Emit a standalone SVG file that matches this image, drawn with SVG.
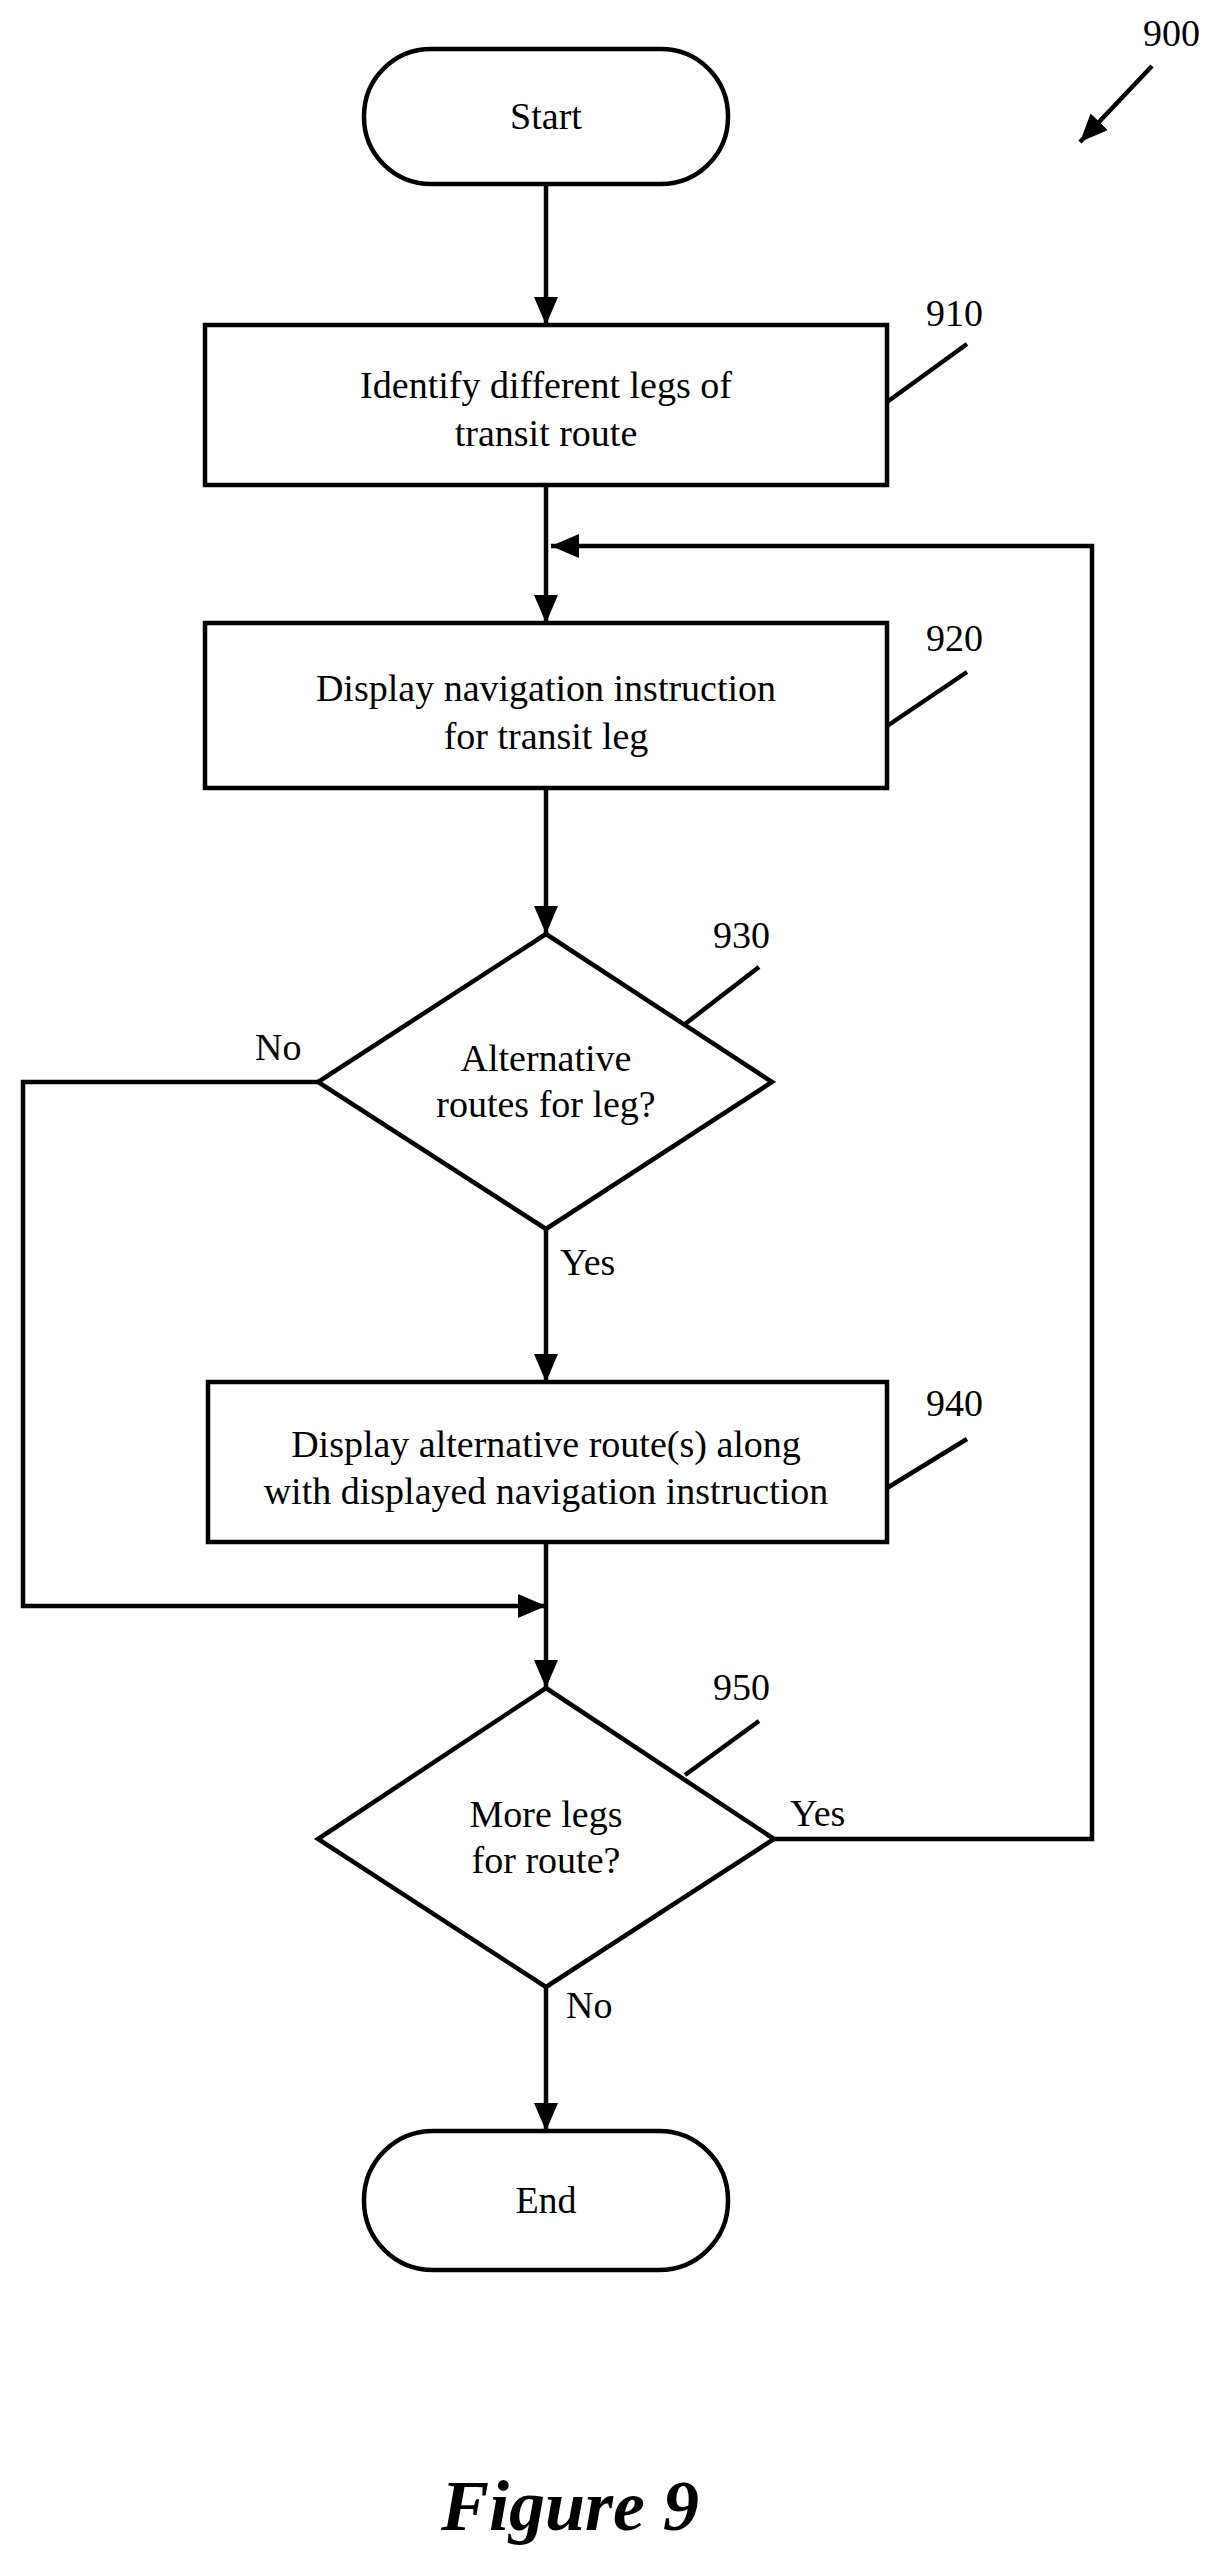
<svg xmlns="http://www.w3.org/2000/svg" width="1226" height="2563" viewBox="0 0 1226 2563">
<style>
.s{fill:#fff;stroke:#000;stroke-width:4.5}
.l{fill:none;stroke:#000;stroke-width:4.5}
.t{font-family:"Liberation Serif",serif;font-size:38px;text-anchor:middle;fill:#000}
.n{font-family:"Liberation Serif",serif;font-size:38px;fill:#000}
</style>
<defs>
<marker id="b" markerWidth="28" markerHeight="28" refX="28" refY="14" orient="auto" markerUnits="userSpaceOnUse" viewBox="0 0 28 28"><path d="M0,2 L28,14 L0,26z" fill="#000"/></marker></defs>
<g id="connectors">
<line class="l" x1="546" y1="184" x2="546" y2="325" marker-end="url(#b)"/>
<line class="l" x1="546" y1="485" x2="546" y2="623" marker-end="url(#b)"/>
<line class="l" x1="546" y1="788" x2="546" y2="934" marker-end="url(#b)"/>
<line class="l" x1="546" y1="1229" x2="546" y2="1382" marker-end="url(#b)"/>
<line class="l" x1="546" y1="1542" x2="546" y2="1688" marker-end="url(#b)"/>
<polyline class="l" points="318,1082 23,1082 23,1606 546,1606" marker-end="url(#b)"/>
<line class="l" x1="546" y1="1987" x2="546" y2="2131" marker-end="url(#b)"/>
<polyline class="l" points="774,1839 1092,1839 1092,546 551,546" marker-end="url(#b)"/>
<text class="n" x="255" y="1060">No</text>
<text class="n" x="560" y="1275">Yes</text>
<text class="n" x="790" y="1826">Yes</text>
<text class="n" x="566" y="2018">No</text>
</g>
<g id="start"><rect class="s" x="364" y="49" width="364" height="135" rx="67"/><text class="t" x="546" y="129">Start</text></g>
<g id="n910"><rect class="s" x="205" y="325" width="682" height="160"/><text class="t" x="546" y="398">Identify different legs of</text><text class="t" x="546" y="446">transit route</text>
<line class="l" x1="887" y1="402" x2="967" y2="344"/><text class="n" x="926" y="326">910</text></g>
<g id="n920"><rect class="s" x="205" y="623" width="682" height="165"/><text class="t" x="546" y="701">Display navigation instruction</text><text class="t" x="546" y="749">for transit leg</text>
<line class="l" x1="887" y1="726" x2="967" y2="672"/><text class="n" x="926" y="651">920</text></g>
<g id="n930"><polygon class="s" points="546,934 772,1082 546,1229 318,1082"/><text class="t" x="546" y="1071">Alternative</text><text class="t" x="546" y="1117">routes for leg?</text>
<line class="l" x1="685" y1="1024" x2="759" y2="967"/><text class="n" x="713" y="948">930</text></g>
<g id="n940"><rect class="s" x="208" y="1382" width="679" height="160"/><text class="t" x="546" y="1457">Display alternative route(s) along</text><text class="t" x="546" y="1504">with displayed navigation instruction</text>
<line class="l" x1="887" y1="1488" x2="967" y2="1439"/><text class="n" x="926" y="1416">940</text></g>
<g id="n950"><polygon class="s" points="546,1688 774,1839 546,1987 318,1839"/><text class="t" x="546" y="1827">More legs</text><text class="t" x="546" y="1873">for route?</text>
<line class="l" x1="685" y1="1775" x2="759" y2="1721"/><text class="n" x="713" y="1700">950</text></g>
<g id="end"><rect class="s" x="364" y="2131" width="364" height="139" rx="69"/><text class="t" x="546" y="2213">End</text></g>
<g id="ref900"><text class="n" x="1143" y="46">900</text><line class="l" x1="1152" y1="66" x2="1080" y2="142" marker-end="url(#b)"/></g>
<text x="570" y="2530" style="font-family:'Liberation Serif',serif;font-size:72px;font-weight:bold;font-style:italic;text-anchor:middle">Figure 9</text>
</svg>
